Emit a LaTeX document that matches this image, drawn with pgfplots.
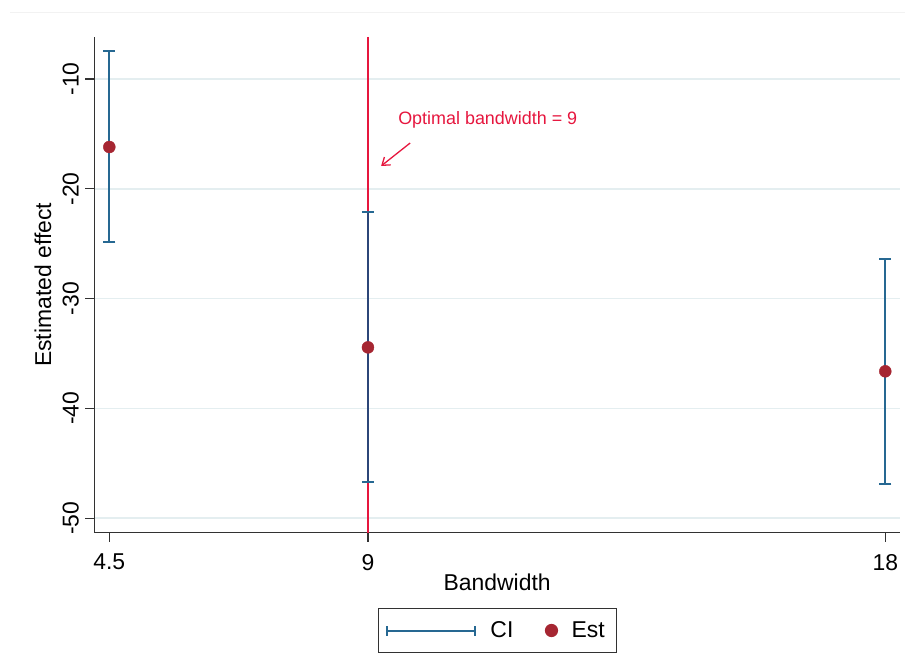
\documentclass[border=0pt]{standalone}
\usepackage{fontspec}
\setmainfont{Liberation Sans}
\usepackage{pgfplots}
\pgfplotsset{compat=1.18}
\usetikzlibrary{arrows.meta}
\definecolor{ciblue}{RGB}{38,104,146}
\definecolor{ciblue9}{RGB}{44,70,120}
\definecolor{estred}{RGB}{166,38,50}
\definecolor{optred}{RGB}{230,22,62}
\definecolor{gridc}{RGB}{228,238,240}
\definecolor{axc}{RGB}{50,50,50}
\begin{document}
\begin{tikzpicture}
\useasboundingbox (0,0) rectangle (912bp,657bp);
\draw[gray!10, line width=1bp] (10bp,644bp) -- (905bp,644bp);
\begin{axis}[
  at={(94.3bp,124.3bp)}, anchor=south west,
  scale only axis, width=805.7bp, height=495.7bp,
  xmin=4.239, xmax=18.256, ymin=-51.32, ymax=-6.17,
  axis x line*=bottom, axis y line*=left,
  axis line style={axc, line width=1.3bp, -},
  xtick={4.5,9,18}, xticklabels={4.5,9,18},
  ytick={-50,-40,-30,-20,-10}, yticklabels={-50,-40,-30,-20,-10},
  tick align=outside, major tick length=9bp,
  tick style={axc, line width=1.2bp},
  ymajorgrids, grid style={gridc, line width=1.5bp},
  yticklabel style={xshift=-3bp, rotate=90, anchor=south, font=\fontsize{23}{27}\selectfont},
  xticklabel style={yshift=-9bp, font=\fontsize{23}{27}\selectfont},
  xlabel={Bandwidth}, ylabel={Estimated effect},
  label style={font=\fontsize{23}{27}\selectfont},
  xlabel style={at={(axis description cs:0.5,-0.0995)}, anchor=center},
  ylabel style={at={(axis description cs:-0.0637,0.5)}, anchor=center},
  legend columns=2,
  legend style={at={(axis description cs:0.5004,-0.1973)}, anchor=center,
    draw=axc, line width=1.2bp, font=\fontsize{23}{27}\selectfont,
    inner xsep=4bp, inner ysep=6bp,
    nodes={inner xsep=7.5bp, inner ysep=7bp},
    /tikz/every even column/.append style={column sep=24bp}},
]
% optimal-bandwidth reference line at x = 9 (hidden behind the CI between its caps)
\addplot[optred, line width=2bp, forget plot] coordinates {(9,-6.17) (9,-22.11)};
\addplot[optred, line width=2bp, forget plot] coordinates {(9,-46.73) (9,-51.32)};
\addplot[ciblue, line width=2.2bp, only marks, mark=none,
  legend image code/.code={
    \path (-3bp,0bp) (95bp,0bp);
    \draw[ciblue, line width=2bp] (0bp,0bp) -- (88bp,0bp);
    \draw[ciblue, line width=2bp] (0bp,-5bp) -- (0bp,5bp) (88bp,-5bp) -- (88bp,5bp);
  },
  error bars/.cd, y dir=both, y explicit,
  error mark options={rotate=90, mark size=6bp, line width=2bp, ciblue},
  error bar style={line width=2.2bp, ciblue}]
  coordinates {
    (4.5,-16.19) += (0,8.71) -= (0,8.68)
    (18,-36.62) += (0,10.26) -= (0,10.29)
  };
\addlegendentry{CI}
\addplot[ciblue9, line width=2.2bp, only marks, mark=none, forget plot,
  error bars/.cd, y dir=both, y explicit,
  error mark options={rotate=90, mark size=6bp, line width=2bp, ciblue},
  error bar style={line width=2.2bp, ciblue9}]
  coordinates {
    (9,-34.44) += (0,12.33) -= (0,12.29)
  };
\addplot[only marks, mark=*, mark size=6bp, estred, mark options={fill=estred, draw=estred},
  legend image code/.code={
    \path (0bp,0bp) (18bp,0bp);
    \fill[estred] (6bp,0bp) circle (6bp);
  }]
  coordinates {(4.5,-16.19) (9,-34.44) (18,-36.62)};
\addlegendentry{Est}
\node[anchor=west, inner sep=0, text=optred, font=\fontsize{18}{22}\selectfont] at (axis cs:9.524,-13.73) {Optimal bandwidth = 9};
\draw[optred, line width=1.3bp, -{Straight Barb[length=7bp, width=10bp]}] (axis cs:9.733,-15.83) -- (axis cs:9.229,-17.92);
\end{axis}
\end{tikzpicture}
\end{document}
